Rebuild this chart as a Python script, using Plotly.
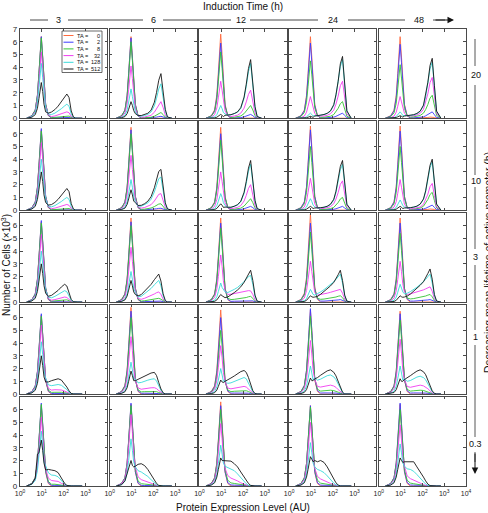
import plotly.graph_objects as go

# ---------------- data ----------------
# histogram bin positions (protein expression level, AU)
BINS = [2.0, 3.5, 5.0, 6.3, 7.4, 8.5, 9.5, 11, 12.6, 15, 20, 28, 40, 56, 79,
        112, 141, 178, 224, 282, 355, 447, 708]
TA_LABELS = ["0", "2", "8", "32", "128", "512"]
TA_COLORS = ["#FF6A3D", "#3B3BFF", "#33C433", "#F03CF0", "#38DADA", "#151515"]
INDUCTION_TIMES = ["3", "6", "12", "24", "48"]          # columns (h)
LIFETIMES = ["20", "10", "3", "1", "0.3"]               # rows (h)
Y_TICKS = [0, 1, 2, 3, 4, 5, 6, 7]
X_TICKS = [1, 10, 100, 1000, 10000]

# counts (x10^3) per bin; rows = TA 0, 2, 8, 32, 128, 512
L20_T3 = [
    [0,.2,.64,1.8,3.5,5.6,6.4,4.8,2.9,1.1,.2,0,0,0,0,0,0,0,0,0,0,0,0],
    [0,.2,.64,1.8,3.5,5.6,6.4,4.8,2.9,1.1,.21,.02,.03,.04,.05,.06,.07,.06,.02,0,0,0,0],
    [0,.19,.63,1.76,3.5,5.5,6.3,4.7,2.8,1.1,.23,.05,.07,.1,.14,.18,.2,.17,.06,.01,0,0,0],
    [0,.16,.52,1.46,2.86,4.6,5.2,3.9,2.34,.97,.26,.13,.18,.25,.34,.44,.5,.43,.15,.03,0,0,0],
    [0,.13,.43,1.2,2.4,3.8,4.3,3.2,1.9,.8,.33,.29,.4,.55,.75,.97,1.1,.94,.33,.06,0,0,0],
    [0,.08,.28,.78,1.54,2.46,2.8,2.1,1.1,.5,.4,.49,.68,.95,1.29,1.67,1.9,1.62,.57,.1,0,0,0],
]
L20_T6 = [
    [0,.2,.64,1.8,3.5,5.6,6.4,4.8,2.9,1.1,.2,0,0,0,0,0,0,0,0,0,0,0,0],
    [0,.19,.63,1.76,3.5,5.5,6.3,4.7,2.8,1.08,.2,.01,.01,.02,.03,.05,.09,.13,.15,.1,.03,0,0],
    [0,.18,.6,1.7,3.3,5.3,6.0,4.5,2.7,1.02,.2,.03,.04,.05,.08,.16,.26,.38,.45,.29,.09,.01,0],
    [0,.12,.41,1.15,2.25,3.6,4.1,3.1,1.85,.75,.19,.08,.1,.14,.23,.47,.75,1.1,1.3,.85,.26,.04,0],
    [0,.07,.23,.64,1.27,2.0,2.3,1.7,1.0,.5,.2,.16,.22,.3,.49,.97,1.57,2.3,2.7,1.75,.54,.08,0],
    [0,.04,.13,.36,.7,1.14,1.3,1.0,.6,.36,.22,.21,.28,.39,.63,1.26,2.03,2.98,3.5,2.28,.7,.1,0],
]
L20_T12 = [
    [0,.2,.66,1.85,3.6,5.8,6.6,5.0,3.0,1.1,.2,0,0,.01,.01,.02,.03,.04,.05,.03,.01,0,0],
    [0,.18,.59,1.65,3.25,5.2,5.9,4.4,2.65,1.01,.2,.02,.02,.03,.05,.11,.17,.26,.3,.2,.06,.01,0],
    [0,.16,.52,1.46,2.86,4.6,5.2,3.9,2.34,.92,.21,.06,.08,.11,.18,.36,.58,.85,1.0,.65,.2,.03,0],
    [0,.09,.29,.81,1.6,2.55,2.9,2.2,1.3,.58,.2,.13,.18,.24,.4,.79,1.28,1.87,2.2,1.43,.44,.07,0],
    [0,.03,.1,.28,.55,.88,1.0,.75,.45,.34,.25,.26,.34,.47,.77,1.55,2.5,3.65,4.3,2.8,.86,.13,0],
    [0,.01,.03,.08,.17,.26,.3,.22,.13,.23,.24,.28,.37,.5,.83,1.66,2.67,3.9,4.6,3.0,.92,.14,0],
]
L20_T24 = [
    [0,.2,.64,1.8,3.5,5.6,6.4,4.8,2.9,1.1,.2,0,0,0,.01,.01,.02,.03,.04,.05,.03,.01,0],
    [0,.18,.59,1.65,3.25,5.2,5.9,4.4,2.65,1.01,.2,.02,.02,.03,.05,.09,.15,.24,.35,.4,.22,.05,0],
    [0,.14,.45,1.26,2.5,4.0,4.5,3.4,2.0,.81,.19,.07,.08,.1,.16,.29,.49,.78,1.14,1.3,.72,.16,0],
    [0,.05,.17,.48,.94,1.5,1.7,1.28,.77,.38,.17,.15,.17,.23,.35,.64,1.1,1.74,2.55,2.9,1.6,.35,0],
    [0,.01,.04,.11,.22,.35,.4,.3,.18,.21,.19,.23,.28,.37,.55,1.0,1.75,2.76,4.05,4.6,2.53,.55,0],
    [0,0,.02,.04,.08,.13,.15,.11,.07,.17,.2,.24,.29,.39,.58,1.07,1.84,2.9,4.27,4.85,2.67,.58,0],
]
L20_T48 = [
    [0,.2,.64,1.8,3.5,5.6,6.4,4.8,2.9,1.1,.2,.01,.01,.01,.01,.02,.04,.06,.09,.1,.06,.01,0],
    [0,.17,.58,1.6,3.2,5.1,5.8,4.35,2.6,1.02,.19,.03,.03,.04,.06,.11,.19,.3,.44,.5,.28,.06,0],
    [0,.13,.42,1.18,2.3,3.7,4.2,3.15,1.9,.76,.2,.09,.11,.14,.22,.4,.68,1.08,1.58,1.8,1.0,.22,0],
    [0,.05,.17,.48,.94,1.5,1.7,1.28,.77,.39,.18,.16,.19,.26,.38,.7,1.22,1.92,2.8,3.2,1.76,.38,0],
    [0,.02,.05,.14,.28,.44,.5,.38,.22,.21,.2,.22,.26,.35,.53,.97,1.67,2.64,3.87,4.4,2.42,.53,0],
    [0,.01,.02,.06,.11,.18,.2,.15,.09,.17,.19,.24,.28,.38,.56,1.03,1.79,2.82,4.14,4.7,2.59,.56,0],
]
L10_T3 = [
    [0,.19,.63,1.76,3.5,5.5,6.3,4.7,2.8,1.07,.19,0,0,0,0,0,0,0,0,0,0,0,0],
    [0,.2,.64,1.8,3.5,5.6,6.4,4.8,2.9,1.11,.21,.01,.02,.03,.03,.04,.05,.04,.02,0,0,0,0],
    [0,.19,.62,1.74,3.4,5.45,6.2,4.65,2.8,1.08,.22,.04,.05,.08,.1,.13,.15,.13,.05,.01,0,0,0],
    [0,.16,.53,1.48,2.9,4.65,5.3,4.0,2.4,.98,.25,.12,.16,.23,.31,.4,.45,.38,.14,.02,0,0,0],
    [0,.12,.4,1.1,2.2,3.5,4.0,3.0,1.8,.86,.32,.26,.36,.5,.68,.88,1.0,.85,.3,.05,0,0,0],
    [0,.09,.3,.84,1.65,2.64,3.0,2.25,1.2,.6,.4,.44,.61,.85,1.16,1.5,1.7,1.45,.51,.09,0,0,0],
]
L10_T6 = [
    [0,.2,.65,1.82,3.6,5.7,6.5,4.9,2.9,1.1,.2,0,0,0,0,0,0,0,0,0,0,0,0],
    [0,.19,.63,1.76,3.5,5.5,6.3,4.7,2.8,1.09,.2,.02,.02,.03,.05,.08,.11,.14,.15,.09,.03,0,0],
    [0,.18,.6,1.7,3.3,5.3,6.0,4.5,2.7,1.05,.23,.06,.08,.11,.17,.28,.38,.48,.5,.3,.09,.02,0],
    [0,.13,.43,1.2,2.4,3.8,4.3,3.2,1.9,.86,.26,.16,.21,.29,.43,.72,.98,1.24,1.3,.78,.23,.04,0],
    [0,.07,.24,.67,1.32,2.1,2.4,1.8,1.08,.67,.33,.31,.42,.57,.86,1.43,1.95,2.47,2.6,1.56,.47,.08,0],
    [0,.05,.16,.45,.88,1.4,1.6,1.2,.72,.59,.37,.38,.51,.7,1.06,1.76,2.4,3.04,3.2,1.92,.58,.1,0],
]
L10_T12 = [
    [0,.2,.65,1.82,3.6,5.7,6.5,4.9,2.9,1.1,.2,0,0,.01,.01,.02,.03,.04,.05,.03,.01,0,0],
    [0,.18,.6,1.7,3.3,5.3,6.0,4.5,2.7,1.01,.2,.02,.02,.03,.05,.11,.17,.26,.3,.2,.06,.01,0],
    [0,.17,.55,1.54,3.0,4.8,5.5,4.1,2.5,.98,.22,.05,.07,.1,.16,.32,.52,.77,.9,.59,.18,.03,0],
    [0,.09,.3,.84,1.65,2.64,3.0,2.25,1.35,.58,.19,.12,.16,.22,.36,.72,1.16,1.7,2.0,1.3,.4,.06,0],
    [0,.04,.13,.36,.7,1.14,1.3,1.0,.6,.36,.22,.22,.29,.4,.65,1.3,2.1,3.06,3.6,2.34,.72,.11,0],
    [0,.02,.05,.14,.28,.44,.5,.38,.22,.24,.22,.23,.31,.43,.7,1.4,2.26,3.3,3.9,2.54,.78,.12,0],
]
L10_T24 = [
    [0,.2,.66,1.85,3.6,5.8,6.6,5.0,3.0,1.1,.2,0,0,0,.01,.01,.02,.03,.04,.05,.03,.01,0],
    [0,.19,.63,1.76,3.5,5.5,6.3,4.7,2.8,1.08,.2,.02,.02,.02,.04,.07,.11,.18,.26,.3,.17,.04,0],
    [0,.15,.5,1.4,2.75,4.4,5.0,3.75,2.25,.88,.19,.05,.06,.08,.12,.22,.38,.6,.88,1.0,.55,.12,0],
    [0,.08,.25,.7,1.4,2.2,2.5,1.9,1.1,.5,.17,.12,.14,.18,.28,.51,.87,1.38,2.02,2.3,1.27,.28,0],
    [0,.03,.09,.25,.5,.8,.9,.68,.4,.26,.17,.18,.22,.29,.43,.79,1.37,2.16,3.17,3.6,1.98,.43,0],
    [0,.01,.03,.08,.17,.26,.3,.22,.13,.17,.17,.2,.23,.31,.47,.86,1.48,2.34,3.43,3.9,2.15,.47,0],
]
L10_T48 = [
    [0,.2,.66,1.85,3.6,5.8,6.6,5.0,3.0,1.1,.2,.01,.01,.01,.01,.02,.04,.06,.09,.1,.06,.01,0],
    [0,.19,.62,1.74,3.4,5.45,6.2,4.65,2.8,1.06,.21,.02,.02,.03,.05,.09,.15,.24,.35,.4,.22,.05,0],
    [0,.15,.5,1.4,2.75,4.4,5.0,3.75,2.25,.89,.21,.07,.08,.11,.17,.31,.53,.84,1.23,1.4,.77,.17,0],
    [0,.07,.24,.67,1.32,2.1,2.4,1.8,1.08,.47,.15,.1,.13,.17,.25,.46,.8,1.26,1.85,2.1,1.16,.25,0],
    [0,.02,.08,.22,.44,.7,.8,.6,.36,.25,.17,.19,.23,.3,.46,.84,1.44,2.28,3.34,3.8,2.09,.46,0],
    [0,.01,.03,.08,.17,.26,.3,.22,.13,.17,.17,.2,.24,.32,.48,.88,1.52,2.4,3.52,4.0,2.2,.48,0],
]
L3_T3 = [
    [0,.19,.63,1.76,3.5,5.5,6.3,4.7,2.8,1.07,.19,0,0,0,0,0,0,0,0,0,0,0,0],
    [0,.2,.64,1.8,3.5,5.6,6.4,4.8,2.9,1.11,.22,.02,.03,.03,.04,.05,.05,.03,.01,0,0,0,0],
    [0,.19,.62,1.74,3.4,5.45,6.2,4.65,2.8,1.1,.25,.08,.1,.13,.17,.2,.18,.11,.03,0,0,0,0],
    [0,.16,.53,1.48,2.9,4.65,5.3,4.0,2.4,1.0,.28,.15,.2,.26,.34,.4,.36,.22,.06,.01,0,0,0],
    [0,.12,.4,1.1,2.2,3.5,4.0,3.0,1.8,.9,.39,.34,.45,.59,.77,.9,.81,.5,.14,.02,0,0,0],
    [0,.09,.3,.84,1.65,2.64,3.0,2.25,1.3,.7,.46,.53,.7,.92,1.19,1.4,1.26,.77,.21,.03,0,0,0],
]
L3_T6 = [
    [0,.2,.66,1.85,3.6,5.8,6.6,5.0,3.0,1.1,.2,0,0,0,0,0,0,0,0,0,0,0,0],
    [0,.19,.63,1.76,3.5,5.5,6.3,4.7,2.8,1.09,.21,.03,.04,.05,.06,.08,.09,.1,.08,.03,.01,0,0],
    [0,.18,.6,1.7,3.3,5.3,6.0,4.5,2.7,1.06,.24,.08,.11,.15,.19,.24,.28,.3,.23,.09,.02,0,0],
    [0,.13,.43,1.2,2.4,3.8,4.3,3.2,1.9,.89,.29,.22,.3,.4,.5,.64,.74,.8,.6,.24,.05,0,0],
    [0,.07,.24,.67,1.32,2.1,2.4,1.8,1.08,.75,.41,.46,.65,.85,1.07,1.36,1.56,1.7,1.28,.51,.1,0,0],
    [0,.05,.17,.48,.94,1.5,1.7,1.28,.8,.6,.49,.59,.84,1.1,1.39,1.76,2.02,2.2,1.65,.66,.13,0,0],
]
L3_T12 = [
    [0,.2,.66,1.85,3.6,5.8,6.6,5.0,3.0,1.1,.2,0,0,.01,.01,.02,.03,.04,.05,.03,.01,0,0],
    [0,.19,.62,1.74,3.4,5.45,6.2,4.65,2.8,1.07,.22,.06,.07,.08,.09,.1,.12,.14,.15,.1,.03,0,0],
    [0,.17,.58,1.6,3.2,5.1,5.8,4.35,2.6,1.05,.3,.2,.22,.25,.28,.32,.36,.42,.45,.3,.1,.01,0],
    [0,.11,.37,1.04,2.0,3.26,3.7,2.8,1.67,.9,.6,.62,.68,.72,.78,.82,.86,.9,.88,.6,.2,.03,0],
    [0,.05,.15,.42,.83,1.3,1.5,1.15,.95,.8,.75,.85,1.0,1.15,1.35,1.6,1.8,2.0,2.1,1.4,.45,.07,0],
    [0,.02,.06,.17,.33,.53,.6,.5,.4,.35,.4,.55,.75,.95,1.2,1.55,1.85,2.25,2.5,1.7,.55,.08,0],
]
L3_T24 = [
    [0,.21,.69,1.93,3.8,6.07,6.9,5.2,3.1,1.17,.21,0,0,.01,.01,.02,.03,.04,.05,.03,.01,0,0],
    [0,.19,.62,1.74,3.4,5.45,6.2,4.65,2.8,1.07,.25,.08,.08,.09,.1,.12,.14,.17,.2,.14,.05,.01,0],
    [0,.17,.55,1.54,3.0,4.8,5.5,4.1,2.5,1.0,.3,.22,.24,.27,.3,.35,.4,.46,.5,.35,.12,.02,0],
    [0,.1,.32,.9,1.76,2.8,3.2,2.4,1.44,.75,.55,.58,.64,.7,.77,.84,.9,.96,1.0,.7,.24,.04,0],
    [0,.03,.1,.28,.55,.88,1.0,.8,.6,.55,.65,.8,.98,1.17,1.38,1.6,1.78,2.0,2.2,1.5,.5,.08,0],
    [0,.02,.05,.14,.28,.44,.5,.42,.38,.4,.45,.62,.82,1.03,1.27,1.55,1.8,2.15,2.5,1.7,.55,.08,0],
]
L3_T48 = [
    [0,.2,.66,1.85,3.6,5.8,6.6,5.0,3.0,1.1,.2,0,0,.01,.01,.02,.03,.04,.05,.03,.01,0,0],
    [0,.19,.62,1.74,3.4,5.45,6.2,4.65,2.8,1.07,.25,.08,.08,.09,.1,.12,.14,.17,.2,.14,.05,.01,0],
    [0,.16,.54,1.5,2.97,4.75,5.4,4.05,2.43,.98,.32,.25,.28,.32,.36,.42,.48,.55,.6,.42,.14,.02,0],
    [0,.1,.32,.9,1.76,2.8,3.2,2.4,1.44,.78,.6,.65,.72,.8,.88,.96,1.04,1.12,1.2,.85,.28,.04,0],
    [0,.04,.14,.39,.77,1.23,1.4,1.1,.8,.65,.7,.82,.98,1.17,1.38,1.6,1.78,2.0,2.2,1.5,.5,.08,0],
    [0,.02,.05,.14,.28,.44,.5,.42,.38,.4,.47,.63,.85,1.08,1.32,1.6,1.87,2.25,2.6,1.8,.6,.09,0],
]
L1_T3 = [
    [0,.19,.62,1.74,3.4,5.45,6.2,4.65,2.8,1.05,.19,0,0,0,0,0,0,0,0,0,0,0,0],
    [0,.19,.63,1.76,3.5,5.5,6.3,4.7,2.8,1.1,.23,.04,.05,.05,.05,.03,.02,.01,0,0,0,0,0],
    [0,.18,.61,1.7,3.36,5.37,6.1,4.58,2.75,1.15,.3,.13,.14,.15,.14,.1,.07,.03,.01,0,0,0,0],
    [0,.16,.54,1.5,2.97,4.75,5.4,4.05,2.43,1.18,.44,.31,.34,.35,.32,.23,.16,.07,.01,0,0,0,0],
    [0,.12,.41,1.15,2.25,3.6,4.1,3.1,1.85,1.26,.72,.66,.72,.75,.69,.5,.35,.15,.03,0,0,0,0],
    [0,.09,.3,.84,1.65,2.64,3.0,2.25,1.35,.95,.95,1.05,1.15,1.2,1.1,.8,.55,.25,.05,0,0,0,0],
]
L1_T6 = [
    [0,.2,.68,1.9,3.74,6.0,6.8,5.1,3.06,1.16,.2,0,0,0,0,0,0,0,0,0,0,0,0],
    [0,.2,.65,1.82,3.6,5.7,6.5,4.9,2.9,1.15,.25,.06,.07,.07,.08,.08,.07,.04,.02,0,0,0,0],
    [0,.18,.6,1.7,3.3,5.3,6.0,4.5,2.7,1.14,.33,.17,.19,.2,.21,.22,.19,.12,.05,.01,0,0,0],
    [0,.14,.45,1.26,2.5,4.0,4.5,3.4,2.0,1.08,.48,.38,.43,.46,.49,.5,.43,.27,.12,.03,0,0,0],
    [0,.08,.25,.7,1.4,2.2,2.5,1.9,1.2,1.17,.88,.91,1.02,1.09,1.16,1.2,1.02,.64,.29,.07,0,0,0],
    [0,.05,.18,.5,1.0,1.6,1.8,1.45,1.05,1.05,1.15,1.3,1.45,1.55,1.65,1.7,1.45,.9,.4,.1,0,0,0],
]
L1_T12 = [
    [0,.2,.66,1.85,3.6,5.8,6.6,5.0,3.0,1.1,.2,0,0,0,0,0,0,0,0,0,0,0,0],
    [0,.18,.6,1.7,3.3,5.3,6.0,4.5,2.7,1.06,.24,.07,.08,.09,.1,.1,.09,.07,.04,.01,0,0,0],
    [0,.15,.5,1.4,2.75,4.4,5.0,3.75,2.25,1.0,.32,.19,.22,.24,.27,.28,.26,.2,.11,.04,.01,0,0],
    [0,.11,.38,1.06,2.1,3.35,3.8,2.85,1.7,.98,.47,.41,.46,.52,.57,.6,.55,.42,.24,.08,.01,0,0],
    [0,.06,.2,.56,1.1,1.76,2.0,1.5,1.0,1.05,.84,.88,1.0,1.12,1.24,1.3,1.2,.91,.52,.18,.03,0,0],
    [0,.03,.11,.31,.6,.97,1.1,.95,.9,1.0,1.1,1.26,1.42,1.59,1.76,1.85,1.7,1.3,.74,.26,.04,0,0],
]
L1_T24 = [
    [0,.2,.66,1.85,3.6,5.8,6.6,5.0,3.0,1.1,.2,0,0,0,0,0,0,0,0,0,0,0,0],
    [0,.2,.67,1.88,3.7,5.9,6.7,5.0,3.0,1.2,.27,.08,.09,.1,.1,.09,.08,.05,.03,.01,0,0,0],
    [0,.18,.61,1.7,3.36,5.37,6.1,4.58,2.75,1.23,.38,.23,.26,.29,.3,.27,.23,.15,.08,.02,0,0,0],
    [0,.13,.42,1.18,2.3,3.7,4.2,3.15,1.9,1.14,.6,.55,.62,.67,.7,.63,.53,.35,.18,.06,0,0,0],
    [0,.07,.22,.62,1.2,1.94,2.2,1.65,1.1,1.3,1.09,1.17,1.32,1.44,1.5,1.35,1.13,.75,.38,.12,0,0,0],
    [0,.04,.13,.35,.69,1.1,1.25,1.05,1.05,1.2,1.29,1.48,1.67,1.82,1.9,1.71,1.43,.95,.48,.15,0,0,0],
]
L1_T48 = [
    [0,.2,.65,1.82,3.6,5.7,6.5,4.9,2.9,1.1,.2,0,0,0,0,0,0,0,0,0,0,0,0],
    [0,.19,.63,1.76,3.5,5.5,6.3,4.7,2.8,1.13,.26,.08,.09,.1,.1,.09,.08,.06,.04,.01,0,0,0],
    [0,.17,.58,1.6,3.2,5.1,5.8,4.35,2.6,1.18,.37,.23,.26,.29,.3,.28,.24,.18,.1,.04,.01,0,0],
    [0,.13,.43,1.2,2.4,3.8,4.3,3.2,1.9,1.15,.6,.53,.6,.67,.7,.64,.56,.42,.25,.09,.02,0,0],
    [0,.07,.22,.62,1.2,1.94,2.2,1.65,1.1,1.21,1.0,1.06,1.2,1.33,1.4,1.29,1.12,.84,.49,.18,.04,0,0],
    [0,.04,.12,.34,.66,1.06,1.2,1.0,1.0,1.14,1.25,1.44,1.63,1.8,1.9,1.75,1.52,1.14,.67,.25,.06,0,0],
]
L03_T3 = [
    [0,.19,.63,1.76,3.5,5.5,6.3,4.7,2.8,1.07,.19,0,0,0,0,0,0,0,0,0,0,0,0],
    [0,.2,.65,1.82,3.6,5.7,6.5,4.9,2.9,1.15,.25,.05,.05,.04,.02,.01,0,0,0,0,0,0,0],
    [0,.2,.64,1.8,3.5,5.6,6.4,4.8,2.9,1.24,.35,.14,.14,.12,.07,.02,.01,0,0,0,0,0,0],
    [0,.16,.54,1.5,2.97,4.75,5.4,4.05,2.43,1.35,.61,.43,.41,.36,.21,.07,.02,0,0,0,0,0,0],
    [0,.13,.43,1.2,2.4,3.8,4.3,3.2,1.9,1.6,1.03,.86,.83,.72,.41,.14,.04,0,0,0,0,0,0],
    [0,.15,.6,2.5,2.6,3.3,3.6,2.8,1.8,1.25,1.3,1.25,1.2,1.05,.6,.2,.05,0,0,0,0,0,0],
]
L03_T6 = [
    [0,.2,.64,1.8,3.5,5.6,6.4,4.8,2.9,1.1,.2,0,0,0,0,0,0,0,0,0,0,0,0],
    [0,.2,.65,1.82,3.6,5.7,6.5,4.9,2.9,1.12,.24,.05,.04,.04,.03,.02,.01,0,0,0,0,0,0],
    [0,.19,.63,1.76,3.5,5.5,6.3,4.7,2.8,1.3,.39,.18,.15,.12,.08,.04,.01,0,0,0,0,0,0],
    [0,.17,.56,1.57,3.1,4.9,5.6,4.2,2.5,1.5,.72,.5,.42,.33,.22,.1,.04,0,0,0,0,0,0],
    [0,.11,.37,1.04,2.0,3.26,3.7,2.8,1.9,1.5,1.2,1.1,.95,.75,.5,.25,.1,.02,0,0,0,0,0],
    [0,.1,.4,1.0,1.4,1.9,2.0,1.6,1.5,1.55,1.7,1.75,1.6,1.3,.9,.45,.2,.05,0,0,0,0,0],
]
L03_T12 = [
    [0,.2,.66,1.85,3.6,5.8,6.6,5.0,3.0,1.1,.2,0,0,0,0,0,0,0,0,0,0,0,0],
    [0,.19,.63,1.76,3.5,5.5,6.3,4.7,2.8,1.12,.26,.08,.07,.06,.04,.02,.01,0,0,0,0,0,0],
    [0,.18,.6,1.7,3.3,5.3,6.0,4.5,2.7,1.3,.45,.24,.2,.15,.1,.05,.02,0,0,0,0,0,0],
    [0,.15,.49,1.37,2.7,4.3,4.9,3.7,2.2,1.4,.82,.62,.52,.4,.25,.12,.05,0,0,0,0,0,0],
    [0,.1,.32,.9,1.76,2.8,3.2,2.5,1.8,1.55,1.45,1.35,1.2,.95,.65,.35,.18,.06,0,0,0,0,0],
    [0,.07,.25,.7,1.3,2.0,2.2,2.0,2.0,1.95,2.0,1.95,1.75,1.5,1.1,.7,.45,.2,.05,0,0,0,0],
]
L03_T24 = [
    [0,.19,.63,1.76,3.5,5.5,6.3,4.7,2.8,1.07,.19,0,0,0,0,0,0,0,0,0,0,0,0],
    [0,.19,.63,1.76,3.5,5.5,6.3,4.7,2.8,1.12,.25,.07,.06,.05,.04,.02,.01,0,0,0,0,0,0],
    [0,.19,.62,1.74,3.4,5.45,6.2,4.65,2.8,1.35,.45,.22,.18,.13,.08,.04,.01,0,0,0,0,0,0],
    [0,.15,.5,1.4,2.75,4.4,5.0,3.75,2.25,1.4,.75,.55,.45,.33,.2,.09,.04,0,0,0,0,0,0],
    [0,.1,.34,.95,1.87,3.0,3.4,2.6,1.8,1.5,1.3,1.2,1.05,.8,.5,.22,.1,.03,0,0,0,0,0],
    [0,.07,.25,.7,1.3,2.0,2.3,2.1,1.9,2.0,1.9,2.0,1.85,1.5,1.0,.5,.25,.08,0,0,0,0,0],
]
L03_T48 = [
    [0,.2,.64,1.8,3.5,5.6,6.4,4.8,2.9,1.1,.2,0,0,0,0,0,0,0,0,0,0,0,0],
    [0,.2,.65,1.82,3.6,5.7,6.5,4.9,2.9,1.15,.27,.08,.07,.06,.04,.02,.01,0,0,0,0,0,0],
    [0,.18,.6,1.7,3.3,5.3,6.0,4.5,2.7,1.3,.45,.23,.18,.13,.08,.04,.01,0,0,0,0,0,0],
    [0,.14,.48,1.34,2.64,4.2,4.8,3.6,2.16,1.57,.79,.58,.48,.36,.23,.1,.04,0,0,0,0,0,0],
    [0,.1,.33,.92,1.8,2.9,3.3,2.6,1.8,1.55,1.35,1.3,1.15,.9,.6,.3,.15,.05,0,0,0,0,0],
    [0,.07,.25,.7,1.3,2.0,2.2,2.0,1.85,1.9,1.9,1.85,1.9,1.5,1.15,.7,.4,.15,.03,0,0,0,0],
]

PANELS = [
    [L20_T3, L20_T6, L20_T12, L20_T24, L20_T48],
    [L10_T3, L10_T6, L10_T12, L10_T24, L10_T48],
    [L3_T3, L3_T6, L3_T12, L3_T24, L3_T48],
    [L1_T3, L1_T6, L1_T12, L1_T24, L1_T48],
    [L03_T3, L03_T6, L03_T12, L03_T24, L03_T48],
]

# ---------------- layout geometry (pixels) ----------------
W, H = 488, 513
ML, MR, MT, MB = 20, 22, 29, 27
PW, PH = W - ML - MR, H - MT - MB
GX, GY = 2.5, 2.7
CW = (PW - 4 * GX) / 5
RH = (PH - 4 * GY) / 5
FONT = "Liberation Sans, Arial, sans-serif"
AXC = "#4a4a4a"


def px(xp):
    return (xp - ML) / PW


def py(yp):
    return (H - MB - yp) / PH


def label(text, x, y, size, xanchor="center", angle=0):
    return dict(text=text, x=px(x), y=py(y), xref="paper", yref="paper",
                xanchor=xanchor, yanchor="middle", showarrow=False,
                textangle=angle, borderpad=0,
                font=dict(size=size, color="#111"))


fig = go.Figure()
layout = {}
for r in range(5):
    for c in range(5):
        k = r * 5 + c + 1
        xs = "" if k == 1 else str(k)
        x0 = c * (CW + GX)
        y0 = r * (RH + GY)
        xt = X_TICKS if c == 4 else X_TICKS[:4]
        layout["xaxis" + xs] = dict(
            type="log", range=[0, 4], domain=[x0 / PW, (x0 + CW) / PW],
            anchor="y" + xs, showline=True, mirror="ticks", linecolor=AXC,
            linewidth=1.2, ticks="inside", ticklen=2.5, tickwidth=0.8,
            tickcolor=AXC, tickvals=xt,
            ticktext=["10<sup>%d</sup>" % i for i in range(len(xt))],
            showticklabels=(r == 4), tickfont=dict(size=7, color="#222"),
            showgrid=False, zeroline=False, fixedrange=True)
        yt = Y_TICKS if r == 0 else Y_TICKS[:-1]
        layout["yaxis" + xs] = dict(
            range=[0, 7], domain=[1 - (y0 + RH) / PH, 1 - y0 / PH],
            anchor="x" + xs, showline=True, mirror="ticks", linecolor=AXC,
            linewidth=1.2, ticks="inside", ticklen=2.5, tickwidth=0.8,
            tickcolor=AXC, tickvals=yt, ticktext=[str(v) for v in yt],
            showticklabels=(c == 0), tickfont=dict(size=8, color="#222"),
            showgrid=False, zeroline=False, fixedrange=True)
        for s, series in enumerate(PANELS[r][c]):
            assert len(series) == len(BINS), (r, c, s, len(series))
            fig.add_trace(go.Scatter(
                x=BINS, y=series, mode="lines",
                line=dict(color=TA_COLORS[s], width=0.9),
                xaxis="x" + xs, yaxis="y" + xs,
                showlegend=False, hoverinfo="skip"))

shapes = []
annotations = []

# legend inside the first panel
shapes.append(dict(type="rect", xref="paper", yref="paper",
                   x0=px(62), x1=px(102), y0=py(31), y1=py(72.5),
                   line=dict(color="#444", width=0.8), fillcolor="white",
                   layer="above"))
for i, (lab, col) in enumerate(zip(TA_LABELS, TA_COLORS)):
    yy = 35.5 + i * 6.7
    shapes.append(dict(type="line", xref="paper", yref="paper",
                       x0=px(63.5), x1=px(73.5), y0=py(yy), y1=py(yy),
                       line=dict(color=col, width=1)))
    annotations.append(label("TA =", 75.5, yy, 5.6, xanchor="left"))
    annotations.append(label(lab, 100.5, yy, 5.6, xanchor="right"))

# top: induction time header
annotations.append(label("Induction Time (h)", 243, 6, 10))
time_x = [58, 153, 240.7, 333.3, 419]
for t, xx in zip(INDUCTION_TIMES, time_x):
    annotations.append(label(t, xx, 20, 9))
for a, b in [(30, 48), (68, 143), (163, 231), (250, 318), (348, 405), (433, 445)]:
    shapes.append(dict(type="line", xref="paper", yref="paper",
                       x0=px(a), x1=px(b), y0=py(20), y1=py(20),
                       line=dict(color="#333", width=0.9)))
annotations.append(dict(text="", x=px(454), y=py(20), ax=-20, ay=0,
                        xref="paper", yref="paper", showarrow=True,
                        arrowhead=2, arrowsize=1.3, arrowwidth=1,
                        arrowcolor="#111"))

# right: lifetime labels
life_y = [75, 181, 257, 337, 444]
for lab, yy in zip(LIFETIMES, life_y):
    annotations.append(label(lab, 475.5, yy, 9))
for a, b in [(39, 66), (85, 175), (187, 249), (265, 330), (345, 437), (452, 462)]:
    shapes.append(dict(type="line", xref="paper", yref="paper",
                       x0=px(475), x1=px(475), y0=py(a), y1=py(b),
                       line=dict(color="#444", width=0.9)))
annotations.append(dict(text="", x=px(475), y=py(474), ax=0, ay=-22,
                        xref="paper", yref="paper", showarrow=True,
                        arrowhead=2, arrowsize=1.3, arrowwidth=1,
                        arrowcolor="#111"))

# axis titles
annotations.append(label("Protein Expression Level (AU)", 242.5, 507.5, 10))
annotations.append(label("Number of Cells (×10<sup>3</sup>)", 6, 265, 10,
                         angle=-90))
annotations.append(label("Decreasing mean lifetime of active promoter (h)",
                         488, 262, 10.5, angle=-90))

fig.update_layout(
    width=W, height=H, margin=dict(l=ML, r=MR, t=MT, b=MB),
    paper_bgcolor="white", plot_bgcolor="white",
    font=dict(family=FONT, size=9, color="#111"),
    showlegend=False, shapes=shapes, annotations=annotations, **layout)

fig.write_html("out.html")
